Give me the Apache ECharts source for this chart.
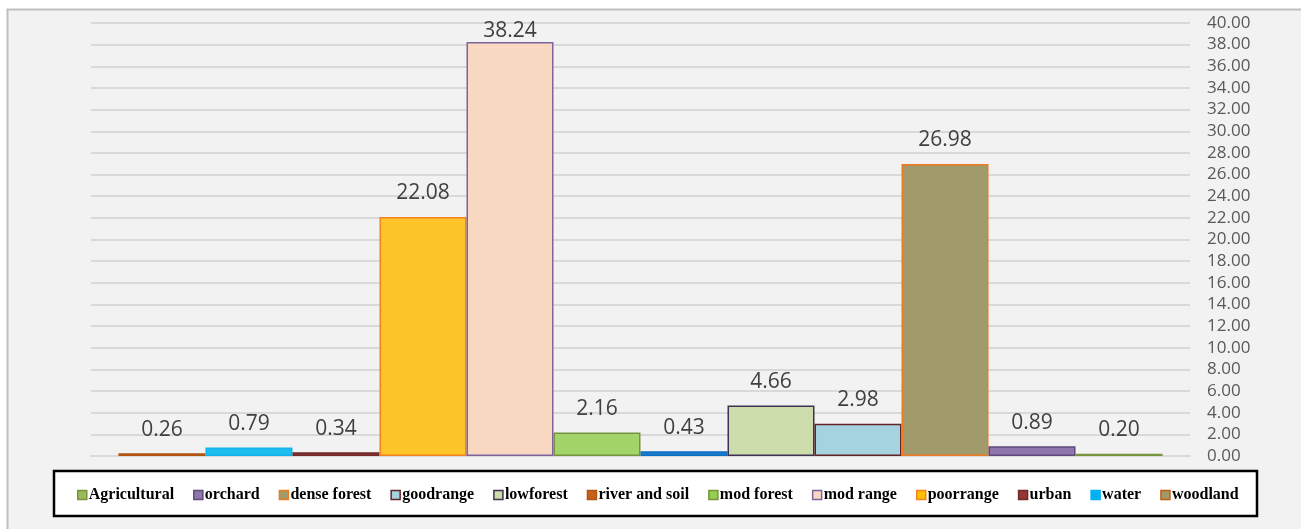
<!DOCTYPE html>
<html>
<head>
<meta charset="utf-8">
<script src="https://cdn.jsdelivr.net/npm/echarts@6/dist/echarts.min.js"></script>
<style>
  html, body { margin: 0; padding: 0; background: #ffffff; }
  #chart { width: 1301px; height: 529px; }
</style>
</head>
<body>
<div id="chart"></div>
<script>
// Land-cover classes, in the order the bars are drawn (left to right)
const seriesNames = ['river and soil', 'water', 'urban', 'poorrange', 'mod range', 'mod forest',
                     'woodland', 'lowforest', 'goodrange', 'dense forest', 'orchard', 'Agricultural'];
// Percentage of area per class
const seriesValues = [0.26, 0.79, 0.34, 22.08, 38.24, 2.16, 0.43, 4.66, 2.98, 26.98, 0.89, 0.20];
// Legend order
const legendOrder = ['Agricultural', 'orchard', 'dense forest', 'goodrange', 'lowforest', 'river and soil',
                     'mod forest', 'mod range', 'poorrange', 'urban', 'water', 'woodland'];
// Value axis range
const axisMin = 0, axisMax = 40, axisStep = 2;

// Bar fill / outline colours per class
const barFill = {
  'river and soil': '#c4621c', 'water': '#1fbcf0', 'urban': '#943634', 'poorrange': '#fec52b',
  'mod range': '#f8d8c0', 'mod forest': '#a2d469', 'woodland': '#1a7dd0', 'lowforest': '#cddcab',
  'goodrange': '#a5d3e0', 'dense forest': '#a19a6b', 'orchard': '#8f77ae', 'Agricultural': '#9bbb59'
};
const barEdge = {
  'river and soil': '#b0540f', 'water': '#12b2ec', 'urban': '#6f2a29', 'poorrange': '#f58220',
  'mod range': '#7f62a0', 'mod forest': '#77933c', 'woodland': '#0f70c0', 'lowforest': '#3f3151',
  'goodrange': '#632523', 'dense forest': '#ee7b22', 'orchard': '#5f497a', 'Agricultural': '#77933c'
};
// Legend swatch colours where they differ from the bar
const swatchFill = { 'woodland': '#9e9a6a', 'water': '#00b0f0', 'mod forest': '#92d050', 'poorrange': '#ffc000' };
const swatchEdge = { 'woodland': '#c55a11', 'water': '#00b0f0' };

const peak = Math.max(...seriesValues);

const series = seriesNames.map((name, i) => ({
  name: name,
  type: 'bar',
  barGap: '0%',
  barCategoryGap: '5%',
  data: [seriesValues[i]],
  itemStyle: { color: barFill[name], borderColor: barEdge[name], borderWidth: 1.5 },
  label: {
    show: true,
    position: 'top',
    distance: seriesValues[i] === peak ? 1 : 13,
    formatter: p => p.value.toFixed(2),
    fontFamily: 'Open Sans',
    fontSize: 21,
    color: '#404040'
  }
}));

const chart = echarts.init(document.getElementById('chart'));
chart.setOption({
  backgroundColor: '#ffffff',
  animation: false,
  graphic: [
    { type: 'rect', z: -10, shape: { x: 7.5, y: 9.5, width: 1300, height: 530 },
      style: { fill: '#f2f2f2', stroke: '#bfbfbf', lineWidth: 2 } },
    { type: 'rect', z: -5, shape: { x: 54, y: 471, width: 1203, height: 45 },
      style: { fill: '#ffffff', stroke: '#000000', lineWidth: 2.5 } }
  ],
  grid: { left: 91, right: 111, top: 23, bottom: 73 },
  legend: {
    left: 72,
    top: 482,
    itemWidth: 9,
    itemHeight: 9,
    itemGap: 19,
    icon: 'rect',
    textStyle: { fontFamily: 'Liberation Serif', fontWeight: 'bold', fontSize: 16, color: '#000000', padding: [0, 0, 0, -3] },
    data: legendOrder.map(name => ({
      name: name,
      itemStyle: {
        color: swatchFill[name] || barFill[name],
        borderColor: swatchEdge[name] || barEdge[name],
        borderWidth: 1.5
      }
    }))
  },
  xAxis: {
    type: 'category',
    data: [''],
    axisTick: { show: false },
    axisLabel: { show: false },
    axisLine: { lineStyle: { color: '#d9d9d9', width: 2 } }
  },
  yAxis: {
    type: 'value',
    position: 'right',
    min: axisMin,
    max: axisMax,
    interval: axisStep,
    axisLine: { show: false },
    axisTick: { show: false },
    axisLabel: {
      margin: 17,
      fontFamily: 'Open Sans',
      fontSize: 17,
      color: '#595959',
      formatter: v => v.toFixed(2)
    },
    splitLine: { lineStyle: { color: '#d9d9d9', width: 2 } }
  },
  series: series
});
</script>
</body>
</html>
